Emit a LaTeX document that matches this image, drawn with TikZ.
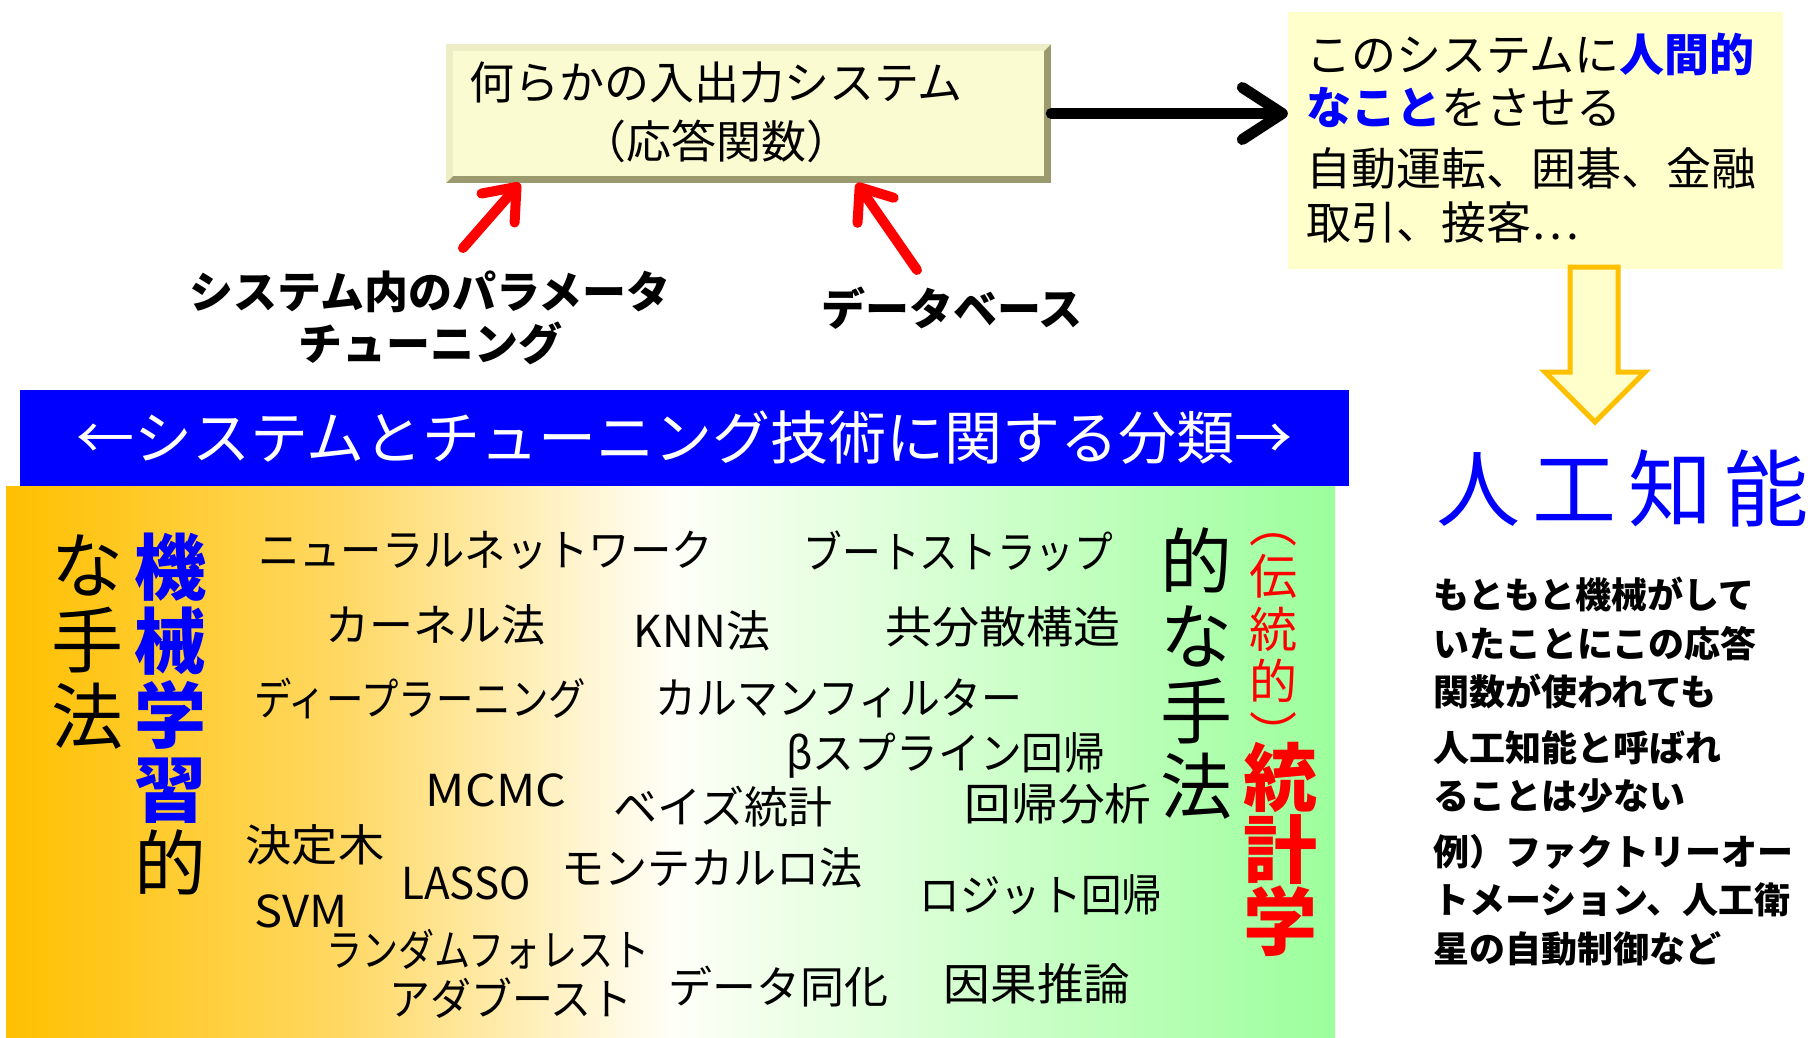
\documentclass[tikz,border=0pt]{standalone}
\usepackage{fontspec}
\usepackage{graphicx}
\newfontfamily\jp{Noto Sans CJK JP}
\usetikzlibrary{arrows.meta,calc}
\definecolor{cblue}{HTML}{0000FF}
\definecolor{cred}{HTML}{FF0000}
\definecolor{boxfill}{HTML}{FFFFCC}
\definecolor{bevin}{HTML}{FBFBD2}
\definecolor{bevdark}{HTML}{9A9A6E}
\definecolor{bevlight}{HTML}{EEEEC6}
\definecolor{arrowline}{HTML}{FFC000}
\definecolor{gA}{HTML}{FFC000}
\definecolor{gB}{HTML}{FFD862}
\definecolor{gC}{HTML}{FFFFF8}
\definecolor{gD}{HTML}{9CFF9C}
\pgfdeclarehorizontalshading{methgrad}{100bp}{color(0bp)=(gA); color(25bp)=(gA); color(37.5bp)=(gB); color(50bp)=(gC); color(75bp)=(gD); color(100bp)=(gD)}
\newcommand{\hsq}[2]{\scalebox{#1}[1]{#2}}
\newcommand{\mlb}[1]{{\bfseries\color{cblue}#1}}
\begin{document}
\begin{tikzpicture}[x=1pt,y=-1pt,
  word/.style={inner sep=0pt, font=\jp\fontsize{44}{50}\selectfont},
  lbl/.style={inner sep=0pt, align=center, font=\jp\bfseries\fontsize{44}{52}\selectfont},
  vtext/.style={inner sep=0pt, align=center},
  blackarrow/.style={line width=11pt, line cap=round, line join=round,
    -{Straight Barb[length=40pt, width=52pt, line cap=round, line join=round]}},
  redarrow/.style={draw=cred, line width=10pt, line cap=round, line join=round,
    -{Straight Barb[length=28pt, width=44pt, line cap=round, line join=round]}}
]
\useasboundingbox (0,0) rectangle (1815,1037);
\fill[white] (0,0) rectangle (1815,1037);

% gradient panel of methods
\fill[shading=methgrad] (6,486) rectangle (1335,1037);

% banner
\node[fill=cblue, text=white, minimum width=1329pt, minimum height=96pt, inner sep=0pt,
  font=\jp\fontsize{58}{60}\selectfont] (banner) at (684.5,438) {←システムとチューニング技術に関する分類→};

% bevelled input/output box
\node[fill=bevdark, minimum width=605pt, minimum height=139pt, inner sep=0pt] (box) at (748.5,113.5) {};
\fill[bevlight] (446,44) -- (1051,44) -- (1044,51) -- (453,51) -- (453,176) -- (446,183) -- cycle;
\fill[bevin] (453,51) rectangle (1044,176);
\node[inner sep=0pt, align=center, font=\jp\fontsize{45}{59}\selectfont] (boxtxt) at (716,112.5)
  {何らかの入出力システム\\（応答関数）};

% right box
\node[fill=boxfill, minimum width=495pt, minimum height=257pt, inner sep=0pt] (rbox) at (1535.5,140.5) {};
\node[anchor=west, inner sep=0pt, align=left, font=\jp\fontsize{45}{53.5}\selectfont] (rtxt) at (1306,138)
  {このシステムに{\bfseries\color{cblue}人間的}\\{\bfseries\color{cblue}なこと}をさせる\\[7.5pt]自動運転、囲碁、金融\\取引、接客…};

% black arrow
\draw[blackarrow] (box.east) -- (box.east -| rbox.west);

% red arrows and labels
\node[lbl] (plabel) at (430,318) {システム内のパラメータ\\チューニング};
\node[lbl] (dlabel) at (952,308) {データベース};
\coordinate (t1) at (463,248);
\coordinate (t2) at (917,270);
\draw[redarrow] (t1) -- ($(box.south west)+(74,0)$);
\draw[redarrow] (t2) -- ($(box.south west)+(411,0)$);

% hollow down arrow
\filldraw[fill=boxfill, draw=arrowline, line width=5pt, line join=miter]
  (1570,267) -- (1618,267) -- (1618,372) -- (1645,372) -- (1595,422) -- (1545,372) -- (1570,372) -- cycle;

% AI
\node[anchor=west, inner sep=0pt, text=cblue, font=\jp\fontsize{84}{90}\selectfont] (ai) at (1436,488)
  {人\hspace{12pt}工\hspace{12pt}知\hspace{12pt}能};

\node[anchor=west, inner sep=0pt, align=left, font=\jp\bfseries\fontsize{36}{48.5}\selectfont] (body) at (1433,771.5)
  {もともと機械がして\\いたことにこの応答\\関数が使われても\\[7pt]人工知能と呼ばれ\\ることは少ない\\[7pt]例）ファクトリーオー\\トメーション、人工衛\\星の自動制御など};

% vertical headings
\node[vtext, font=\jp\fontsize{72}{74}\selectfont] (mlcol) at (170,714) {\mlb{機}\\\mlb{械}\\\mlb{学}\\\mlb{習}\\的};
\node[vtext, font=\jp\fontsize{72}{75.5}\selectfont] (mlcol2) at (87,642) {な\\手\\法};
\node[vtext, font=\jp\fontsize{72}{75}\selectfont] (stcol2) at (1196,674) {的\\な\\手\\法};
\node[vtext, text=cred, font=\jp\fontsize{48}{52.5}\selectfont] (stcolA) at (1273,643) {︵\\伝\\統\\的\\︶};
\node[vtext, text=cred, font=\jp\bfseries\fontsize{74}{72}\selectfont] (stcolB) at (1280,849) {統\\計\\学};

% method words
\node[word] (w1) at (485.5,550) {\hsq{0.94}{ニューラルネットワーク}};
\node[word] (w2) at (958.5,551) {\hsq{0.88}{ブートストラップ}};
\node[word] (w3) at (435,625) {カーネル法};
\node[word] (w4) at (702,631) {KNN法};
\node[word] (w5) at (1003,627) {\hsq{1.07}{共分散構造}};
\node[word] (w6) at (420,698) {\hsq{0.85}{ディープラーニング}};
\node[word] (w7) at (839,698) {\hsq{0.93}{カルマンフィルター}};
\node[word] (w8) at (946,755) {\hsq{0.95}{βスプライン回帰}};
\node[word] (w9) at (496,790) {\hsq{1.1}{MCMC}};
\node[word] (w10) at (723,807) {ベイズ統計};
\node[word] (w11) at (1058,804) {\hsq{1.06}{回帰分析}};
\node[word] (w12) at (315,845) {\hsq{1.05}{決定木}};
\node[word] (w13) at (466,883) {\hsq{0.96}{LASSO}};
\node[word] (w14) at (712,868) {\hsq{0.98}{モンテカルロ法}};
\node[word] (w15) at (1041,895) {\hsq{0.92}{ロジット回帰}};
\node[word] (w16) at (301,911) {\hsq{1.07}{SVM}};
\node[word] (w17) at (488,949) {\hsq{0.82}{ランダムフォレスト}};
\node[word] (w18) at (511,998) {\hsq{0.93}{アダブースト}};
\node[word] (w19) at (778,987) {データ同化};
\node[word] (w20) at (1037,984) {\hsq{1.06}{因果推論}};
\end{tikzpicture}
\end{document}
